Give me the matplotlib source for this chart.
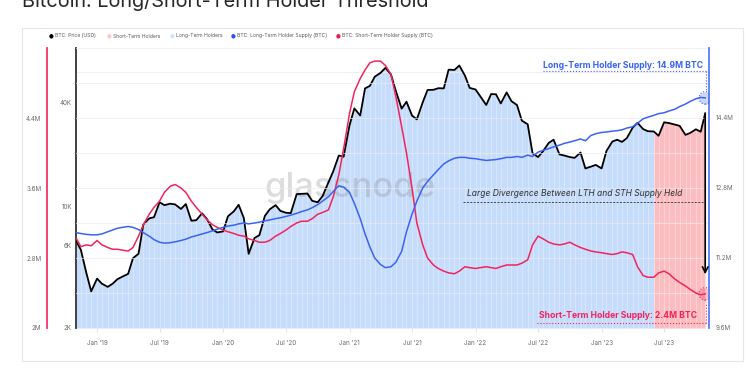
import numpy as np
import pandas as pd
import matplotlib
matplotlib.use("Agg")
import matplotlib.pyplot as plt
import matplotlib.dates as mdates
from matplotlib.patches import Rectangle
from matplotlib.ticker import FixedLocator, NullFormatter

plt.rcParams['font.family'] = ['Inter', 'DejaVu Sans']

# data: 1st and 15th of every month from Nov 2018, last point end of Oct 2023
dates = list(pd.date_range('2018-11-01', '2023-10-15', freq='SMS')) + [pd.Timestamp('2023-10-28')]

price_usd = [
    6350, 5650, 4150, 3250,
    3850, 3600, 3450, 3600, 3820, 3950, 4100, 5050, 5350, 7900, 8550, 8700,
    10600, 10200, 10400, 10300, 9700, 10350, 8300, 8350, 9150, 8500, 7400, 7100,
    7200, 8800, 9400, 10250, 8600, 5350, 6600, 6850, 8850, 9650, 10200, 9450,
    9220, 9180, 11800, 11850, 11900, 10800, 10600, 11500, 13800, 16000, 19700, 19400,
    29400, 36800, 33500, 48000, 49600, 56000, 59000, 63000, 57800, 46500, 36700, 40200,
    33500, 31800, 39900, 47000, 47100, 48100, 48000, 61500, 61300, 65000, 57000, 48300,
    47300, 43100, 38500, 44500, 44400, 39300, 45500, 40500, 38500, 31300, 29800, 20300,
    19300, 20800, 23300, 24300, 20000, 19700, 19300, 19100, 20500, 16600, 17000, 17400,
    16600, 20900, 23700, 24300, 23600, 24800, 28500, 30400, 28000, 27200, 27100, 25600,
    30600, 30300, 29700, 29200, 25900, 26600, 27900, 27000,
    34500,
]

# long-term holder supply, million BTC
lth_supply = [
    11.78, 11.76, 11.74, 11.73,
    11.73, 11.75, 11.80, 11.84, 11.88, 11.90, 11.92, 11.90, 11.85, 11.78, 11.70, 11.62,
    11.56, 11.54, 11.55, 11.57, 11.60, 11.63, 11.68, 11.71, 11.75, 11.78, 11.82, 11.86,
    11.90, 11.93, 11.95, 11.98, 12.00, 11.98, 12.00, 12.02, 12.05, 12.07, 12.10, 12.12,
    12.15, 12.18, 12.22, 12.26, 12.30, 12.35, 12.42, 12.50, 12.60, 12.72, 12.85, 12.82,
    12.70, 12.45, 12.10, 11.75, 11.45, 11.20, 11.05, 10.98, 11.00, 11.10, 11.35, 11.80,
    12.20, 12.50, 12.80, 12.95, 13.10, 13.22, 13.35, 13.42, 13.48, 13.50, 13.50, 13.48,
    13.47, 13.45, 13.43, 13.44, 13.45, 13.47, 13.50, 13.50, 13.52, 13.50, 13.55, 13.52,
    13.62, 13.66, 13.70, 13.74, 13.78, 13.82, 13.85, 13.88, 13.92, 13.88, 14.00, 14.04,
    14.07, 14.08, 14.10, 14.11, 14.13, 14.17, 14.20, 14.28, 14.38, 14.42, 14.46, 14.50,
    14.52, 14.56, 14.60, 14.66, 14.72, 14.78, 14.84, 14.87,
    14.86,
]

# short-term holder supply, million BTC
sth_supply = [
    3.03, 2.93, 2.95, 2.94,
    3.00, 2.95, 2.92, 2.90, 2.90, 2.89, 2.88, 2.92, 3.05, 3.18, 3.30, 3.38,
    3.45, 3.55, 3.62, 3.64, 3.60, 3.55, 3.45, 3.38, 3.30, 3.24, 3.18, 3.15,
    3.12, 3.10, 3.08, 3.06, 3.05, 3.02, 3.00, 2.98, 2.98, 3.00, 3.05, 3.08,
    3.12, 3.16, 3.20, 3.22, 3.22, 3.25, 3.30, 3.32, 3.35, 3.50, 3.75, 4.05,
    4.45, 4.70, 4.85, 4.95, 5.03, 5.05, 5.05, 5.00, 4.90, 4.65, 4.30, 4.00,
    3.60, 3.20, 2.95, 2.80, 2.72, 2.68, 2.65, 2.63, 2.62, 2.65, 2.70, 2.69,
    2.68, 2.69, 2.70, 2.69, 2.68, 2.70, 2.72, 2.72, 2.72, 2.74, 2.78, 2.95,
    3.05, 3.02, 2.98, 2.96, 2.95, 2.96, 2.98, 2.95, 2.92, 2.90, 2.88, 2.87,
    2.86, 2.85, 2.84, 2.85, 2.87, 2.86, 2.84, 2.70, 2.60, 2.58, 2.58, 2.63,
    2.65, 2.62, 2.56, 2.52, 2.48, 2.44, 2.40, 2.38,
    2.39,
]

sth_start = pd.Timestamp('2023-06-01')  # price above STH threshold from here

price_ticks = [2000, 6000, 10000, 40000]
price_labels = ['2K', '6K', '10K', '40K']
sth_ticks = [2.0, 2.8, 3.6, 4.4]
sth_labels = ['2M', '2.8M', '3.6M', '4.4M']
lth_ticks = [9.6, 11.2, 12.8, 14.4]
lth_labels = ['9.6M', '11.2M', '12.8M', '14.4M']

BLUE = '#3a63f3'
RED = '#f2245c'
FILL_BLUE = '#c6dcfb'
FILL_RED = '#fbbdbf'
GREY = '#6b6b6b'

W, H = 750, 375
def fx(x):
    return x / W
def fy(y):
    return 1 - y / H

fig = plt.figure(figsize=(7.5, 3.75), dpi=100)
fig.add_artist(Rectangle((fx(22), fy(361)), fx(743) - fx(22), fy(28) - fy(361),
                         transform=fig.transFigure, fc='white', ec='#e6e6e6', lw=0.8, zorder=-10))

# title is cut by the top edge, as in the original screenshot
fig.text(fx(22), fy(7), 'Bitcoin: Long/Short-Term Holder Threshold', fontsize=14.3,
         color='#262626', va='baseline', ha='left')

# legend row
legend_items = [('BTC: Price (USD)', 'black', 51),
                ('Short-Term Holders', '#fcc9c9', 109),
                ('Long-Term Holders', '#d3e2fb', 172),
                ('BTC: Long-Term Holder Supply (BTC)', '#2d4ff0', 233),
                ('BTC: Short-Term Holder Supply (BTC)', '#f2184f', 338)]
for name, col, xp in legend_items:
    fig.text(fx(xp), fy(36), '\u25CF', color=col, fontsize=4, ha='center', va='center',
             family='DejaVu Sans')
    fig.text(fx(xp + 4), fy(36), name, color='#555555', fontsize=3.6, ha='left', va='center')

ax = fig.add_axes([fx(76), fy(328), fx(709) - fx(76), fy(48) - fy(328)])
ax_sth = ax.twinx()
ax_lth = ax.twinx()

# price axis (log)
ax.set_yscale('log')
ax.set_ylim(2000, 82000)
ax.set_xlim(pd.Timestamp('2018-11-01'), pd.Timestamp('2023-11-08'))

d = np.array(dates, dtype='datetime64[ns]')
p = np.array(price_usd, dtype=float)
blue_part = d <= np.datetime64(sth_start)
red_part = d >= np.datetime64(sth_start)
ax.fill_between(d[blue_part], p[blue_part], 2000, color=FILL_BLUE, lw=0, zorder=1)
ax.fill_between(d[red_part], p[red_part], 2000, color=FILL_RED, lw=0, zorder=1)
ax.vlines(d, 2000, p, colors='white', lw=0.5, alpha=0.45, zorder=1.5)
ax.plot(d, p, color='black', lw=1.3, zorder=5)

ax.yaxis.set_major_locator(FixedLocator(price_ticks))
ax.set_yticklabels(price_labels)
ax.yaxis.set_minor_locator(FixedLocator([40000, 60000]))
ax.yaxis.set_minor_formatter(NullFormatter())
ax.grid(which='minor', axis='y', color='#ececec', lw=0.6)
ax.tick_params(axis='y', which='both', length=0, labelsize=4.5, labelcolor=GREY, pad=3)

ax.xaxis.set_major_locator(mdates.MonthLocator(bymonth=[1, 7]))
ax.xaxis.set_major_formatter(mdates.DateFormatter("%b '%y"))
ax.tick_params(axis='x', length=3, color='#e4e4e4', labelsize=4.5, labelcolor=GREY, pad=5.5)

for s in ['top', 'right', 'bottom']:
    ax.spines[s].set_visible(False)
ax.spines['left'].set_color('#333333')
ax.spines['left'].set_linewidth(1.3)

# short-term holder supply axis (outer left)
ax_sth.plot(d, sth_supply, color=RED, lw=1.1, zorder=3)
ax_sth.set_ylim(2.0, 5.2)
ax_sth.yaxis.set_ticks_position('left')
ax_sth.yaxis.set_label_position('left')
ax_sth.spines['left'].set_position(('outward', 21))
ax_sth.spines['left'].set_color('#f4336a')
ax_sth.spines['left'].set_linewidth(1.3)
for s in ['top', 'right', 'bottom']:
    ax_sth.spines[s].set_visible(False)
ax_sth.yaxis.set_major_locator(FixedLocator(sth_ticks))
ax_sth.set_yticklabels(sth_labels)
ax_sth.yaxis.set_minor_locator(FixedLocator([2.4, 3.2, 4.0, 4.8, 5.2]))
ax_sth.yaxis.set_minor_formatter(NullFormatter())
ax_sth.grid(which='both', axis='y', color='#ececec', lw=0.6, alpha=0.8)
ax_sth.tick_params(axis='y', which='both', length=0, labelsize=4.5, labelcolor=GREY, pad=4)

# long-term holder supply axis (right)
ax_lth.plot(d, lth_supply, color=BLUE, lw=1.1, zorder=3)
ax_lth.set_ylim(9.6, 16.0)
for s in ['top', 'left', 'bottom']:
    ax_lth.spines[s].set_visible(False)
ax_lth.spines['right'].set_color('#5b7cf5')
ax_lth.spines['right'].set_linewidth(1.3)
ax_lth.yaxis.set_major_locator(FixedLocator(lth_ticks))
ax_lth.set_yticklabels(lth_labels)
ax_lth.tick_params(axis='y', length=0, labelsize=4.5, labelcolor=GREY, pad=5)

# watermark
ax.text(0.433, 0.5, 'glassnode', transform=ax.transAxes, fontsize=25, color='#8c8c8c',
        alpha=0.3, ha='center', va='center', fontweight='medium', zorder=2)

# end markers
ax_lth.scatter([d[-1]], [lth_supply[-1]], s=80, color=BLUE, alpha=0.25, zorder=6, lw=0)
ax_lth.scatter([d[-1]], [lth_supply[-1]], s=80, facecolors='none', edgecolors=BLUE,
               linestyles=':', lw=0.8, zorder=6)
ax_sth.scatter([d[-1]], [sth_supply[-1]], s=80, color=RED, alpha=0.25, zorder=6, lw=0)
ax_sth.scatter([d[-1]], [sth_supply[-1]], s=80, facecolors='none', edgecolors=RED,
               linestyles=':', lw=0.8, zorder=6)

# annotations
ax_lth.text(0.9905, 0.936, 'Long-Term Holder Supply: 14.9M BTC', transform=ax_lth.transAxes,
            color=BLUE, fontsize=6.2, fontweight='bold', ha='right', va='center')
ax_lth.plot([0.738, 0.995], [0.918, 0.918], transform=ax_lth.transAxes, color=BLUE,
            ls=':', lw=0.8, clip_on=False)
ax_lth.plot([0.995, 0.995], [0.918, 0.845], transform=ax_lth.transAxes, color=BLUE,
            ls=':', lw=0.8, clip_on=False)

ax_lth.text(0.981, 0.046, 'Short-Term Holder Supply: 2.4M BTC', transform=ax_lth.transAxes,
            color=RED, fontsize=6.2, fontweight='bold', ha='right', va='center')
ax_lth.plot([0.728, 0.995], [0.018, 0.018], transform=ax_lth.transAxes, color=RED,
            ls=':', lw=0.8, clip_on=False)
ax_lth.plot([0.995, 0.995], [0.018, 0.093], transform=ax_lth.transAxes, color=RED,
            ls=':', lw=0.8, clip_on=False)

ax_lth.text(0.618, 0.479, 'Large Divergence Between LTH and STH Supply Held',
            transform=ax_lth.transAxes, color='#333333', fontsize=6.1, style='italic',
            ha='left', va='center')
ax_lth.plot([0.611, 0.9905], [0.45, 0.45], transform=ax_lth.transAxes, color='#444444',
            ls=(0, (2, 1.5)), lw=0.7)

ax_lth.annotate('', xy=(d[-1], 0.182), xycoords=('data', 'axes fraction'),
                xytext=(d[-1], 0.77), textcoords=('data', 'axes fraction'),
                arrowprops=dict(arrowstyle='->', color='black', lw=1.2, mutation_scale=10))

fig.savefig('out.png', dpi=100)
